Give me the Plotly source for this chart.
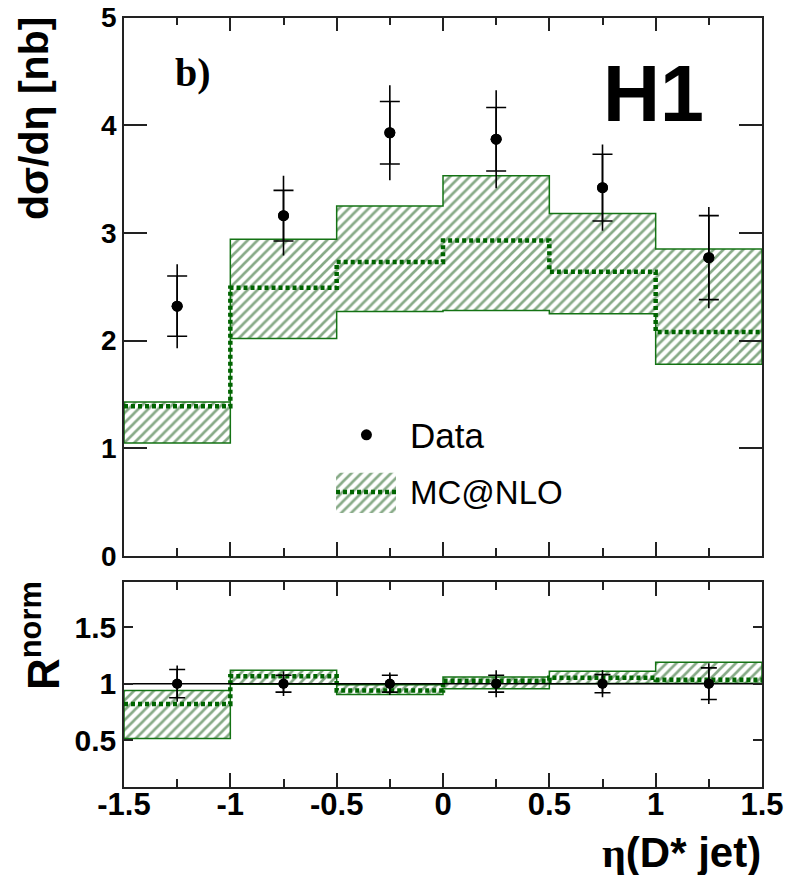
import plotly.graph_objects as go

# ---------------- data ----------------
eta_edges = [-1.5, -1.0, -0.5, 0.0, 0.5, 1.0, 1.5]
eta_centers = [-1.25, -0.75, -0.25, 0.25, 0.75, 1.25]

xsec_data = [2.32, 3.16, 3.93, 3.87, 3.42, 2.77]
xsec_stat = [0.28, 0.235, 0.29, 0.295, 0.31, 0.39]
xsec_tot = [0.39, 0.37, 0.44, 0.455, 0.40, 0.47]

mc_up = [1.43, 2.94, 3.25, 3.53, 3.18, 2.85]
mc_low = [1.05, 2.02, 2.27, 2.28, 2.25, 1.78]
mc_central = [1.39, 2.49, 2.73, 2.93, 2.64, 2.08]

r_data = [1.0, 1.0, 1.0, 1.0, 1.0, 1.0]
r_stat = [0.125, 0.075, 0.075, 0.075, 0.08, 0.14]
r_tot = [0.16, 0.11, 0.10, 0.12, 0.12, 0.18]

r_mc_up = [0.94, 1.12, 0.99, 1.06, 1.11, 1.19]
r_mc_low = [0.515, 0.995, 0.905, 0.955, 1.0, 1.005]
r_mc_central = [0.82, 1.065, 0.94, 1.025, 1.053, 1.035]

x_tick_vals = [-1.5, -1.0, -0.5, 0.0, 0.5, 1.0, 1.5]
x_tick_text = ["-1.5", "-1", "-0.5", "0", "0.5", "1", "1.5"]
y_tick_vals = [0, 1, 2, 3, 4, 5]
r_tick_vals = [0.5, 1.0, 1.5]
r_tick_text = ["0.5", "1", "1.5"]

# legend sample placement (upper-panel coordinates)
leg_marker_xy = (-0.36, 1.125)
leg_box_x = (-0.503, -0.221)
leg_box_y = (0.40, 0.772)
leg_line_y = 0.595

# ---------------- style ----------------
W, H = 787, 875
GREEN_LINE = "rgb(20,115,20)"
GREEN_HATCH = "rgb(15,85,15)"
GREEN_DOT = "rgb(0,100,0)"
SANS = "Liberation Sans"
SERIF = "Liberation Serif"


def px(x):
    return x / W


def py(y):
    return 1 - y / H


def band_xy(edges, up, low):
    xs, ys = [], []
    for i in range(len(up)):
        xs += [edges[i], edges[i + 1]]
        ys += [up[i], up[i]]
    for i in reversed(range(len(low))):
        xs += [edges[i + 1], edges[i]]
        ys += [low[i], low[i]]
    xs.append(xs[0])
    ys.append(ys[0])
    return xs, ys


def step_xy(edges, vals):
    xs, ys = [], []
    for i, v in enumerate(vals):
        xs += [edges[i], edges[i + 1]]
        ys += [v, v]
    return xs, ys


pattern = dict(shape="/", fgcolor=GREEN_HATCH, bgcolor="white", size=7, solidity=0.38)

fig = go.Figure()

# ---- upper panel ----
bx, by = band_xy(eta_edges, mc_up, mc_low)
fig.add_trace(go.Scatter(x=bx, y=by, mode="lines", fill="toself", fillpattern=pattern,
                         fillcolor="white", line=dict(color=GREEN_LINE, width=1.5),
                         xaxis="x", yaxis="y", showlegend=False, hoverinfo="skip"))
sx, sy = step_xy(eta_edges, mc_central)
fig.add_trace(go.Scatter(x=sx, y=sy, mode="lines", line=dict(color=GREEN_DOT, width=4.5, dash="4px,3px"),
                         xaxis="x", yaxis="y", showlegend=False, hoverinfo="skip"))
fig.add_trace(go.Scatter(x=eta_centers, y=xsec_data, mode="markers",
                         marker=dict(color="black", size=11),
                         error_y=dict(type="data", array=xsec_tot, color="black", thickness=1.6, width=0),
                         xaxis="x", yaxis="y", showlegend=False))
fig.add_trace(go.Scatter(x=eta_centers, y=xsec_data, mode="markers",
                         marker=dict(color="black", size=11),
                         error_y=dict(type="data", array=xsec_stat, color="black", thickness=1.6, width=10),
                         xaxis="x", yaxis="y", showlegend=False))

# legend samples
lx0, lx1 = leg_box_x
ly0, ly1 = leg_box_y
fig.add_trace(go.Scatter(x=[lx0, lx1, lx1, lx0, lx0], y=[ly0, ly0, ly1, ly1, ly0], mode="lines",
                         fill="toself", fillpattern=pattern, fillcolor="white",
                         line=dict(color="rgba(0,0,0,0)", width=0),
                         xaxis="x", yaxis="y", showlegend=False, hoverinfo="skip"))
fig.add_trace(go.Scatter(x=[lx0, lx1], y=[leg_line_y, leg_line_y], mode="lines",
                         line=dict(color=GREEN_DOT, width=4.5, dash="4px,3px"),
                         xaxis="x", yaxis="y", showlegend=False, hoverinfo="skip"))
fig.add_trace(go.Scatter(x=[leg_marker_xy[0]], y=[leg_marker_xy[1]], mode="markers",
                         marker=dict(color="black", size=11),
                         xaxis="x", yaxis="y", showlegend=False, hoverinfo="skip"))

# ---- lower panel ----
bx, by = band_xy(eta_edges, r_mc_up, r_mc_low)
fig.add_trace(go.Scatter(x=bx, y=by, mode="lines", fill="toself", fillpattern=pattern,
                         fillcolor="white", line=dict(color=GREEN_LINE, width=1.5),
                         xaxis="x2", yaxis="y2", showlegend=False, hoverinfo="skip"))
sx, sy = step_xy(eta_edges, r_mc_central)
fig.add_trace(go.Scatter(x=sx, y=sy, mode="lines", line=dict(color=GREEN_DOT, width=4.5, dash="4px,3px"),
                         xaxis="x2", yaxis="y2", showlegend=False, hoverinfo="skip"))
fig.add_trace(go.Scatter(x=[eta_edges[0], eta_edges[-1]], y=[1, 1], mode="lines",
                         line=dict(color="black", width=1.5),
                         xaxis="x2", yaxis="y2", showlegend=False, hoverinfo="skip"))
fig.add_trace(go.Scatter(x=eta_centers, y=r_data, mode="markers",
                         marker=dict(color="black", size=10),
                         error_y=dict(type="data", array=r_tot, color="black", thickness=1.6, width=0),
                         xaxis="x2", yaxis="y2", showlegend=False))
fig.add_trace(go.Scatter(x=eta_centers, y=r_data, mode="markers",
                         marker=dict(color="black", size=10),
                         error_y=dict(type="data", array=r_stat, color="black", thickness=1.6, width=8),
                         xaxis="x2", yaxis="y2", showlegend=False))

xdom = [px(124), px(762)]
axis_common = dict(showline=True, linecolor="#222", linewidth=1.6, mirror="ticks", automargin=False,
                   ticks="inside", tickcolor="#222", tickwidth=1.5, showgrid=False, zeroline=False)

fig.update_layout(
    width=W, height=H, margin=dict(l=0, r=0, t=0, b=0, autoexpand=False),
    paper_bgcolor="white", plot_bgcolor="white", showlegend=False,
    font=dict(family=SANS, color="black"),
    xaxis=dict(domain=xdom, anchor="y", range=[-1.5, 1.5], tickvals=x_tick_vals, ticklen=14,
               showticklabels=False,
               minor=dict(dtick=0.25, tick0=-1.5, ticklen=8, ticks="inside", tickcolor="#222", tickwidth=1.5),
               **axis_common),
    yaxis=dict(domain=[py(556), py(17.5)], anchor="x", range=[0, 5], tickvals=y_tick_vals, ticklen=23,
               tickfont=dict(size=28, weight="bold", family=SANS), ticklabelstandoff=0,
               **axis_common),
    xaxis2=dict(domain=xdom, anchor="y2", range=[-1.5, 1.5], tickvals=x_tick_vals, ticktext=x_tick_text,
                ticklen=14, tickfont=dict(size=31, weight="bold", family=SANS), ticklabelstandoff=-11,
                minor=dict(dtick=0.25, tick0=-1.5, ticklen=8, ticks="inside", tickcolor="#222", tickwidth=1.5),
                **axis_common),
    yaxis2=dict(domain=[py(786.5), py(582)], anchor="x2", range=[0.09, 1.9], tickvals=r_tick_vals,
                ticktext=r_tick_text, ticklen=9, tickfont=dict(size=30, weight="bold", family=SANS),
                ticklabelstandoff=0, **axis_common),
)

ann = []
ann.append(dict(x=px(34), y=py(119), xref="paper", yref="paper", text="dσ/dη [nb]", textangle=-90,
                showarrow=False, xanchor="center", yanchor="middle",
                font=dict(size=41, weight="bold", family=SANS, color="black")))
ann.append(dict(x=px(40), y=py(636), xref="paper", yref="paper", text="R<sup>norm</sup>", textangle=-90,
                showarrow=False, xanchor="center", yanchor="middle",
                font=dict(size=44, weight="bold", family=SANS, color="black")))
ann.append(dict(x=px(763), y=py(852), xref="paper", yref="paper",
                text="<span style='font-family:\"Liberation Serif\", serif'>η</span>(D* jet)",
                showarrow=False, xanchor="right", yanchor="middle",
                font=dict(size=42, weight="bold", family=SANS, color="black")))
ann.append(dict(x=px(193), y=py(72), xref="paper", yref="paper", text="b)", showarrow=False,
                xanchor="center", yanchor="middle",
                font=dict(size=40, weight="bold", family=SERIF, color="black")))
ann.append(dict(x=px(653), y=py(93), xref="paper", yref="paper", text="H1", showarrow=False,
                xanchor="center", yanchor="middle",
                font=dict(size=79, weight="bold", family=SANS, color="black")))
ann.append(dict(x=px(408), y=py(436), xref="paper", yref="paper", text="Data", showarrow=False,
                xanchor="left", yanchor="middle",
                font=dict(size=35, family=SANS, color="black")))
ann.append(dict(x=px(408), y=py(492), xref="paper", yref="paper", text="MC@NLO", showarrow=False,
                xanchor="left", yanchor="middle",
                font=dict(size=33, family=SANS, color="black")))
fig.update_layout(annotations=ann)

fig.write_html("out.html")
